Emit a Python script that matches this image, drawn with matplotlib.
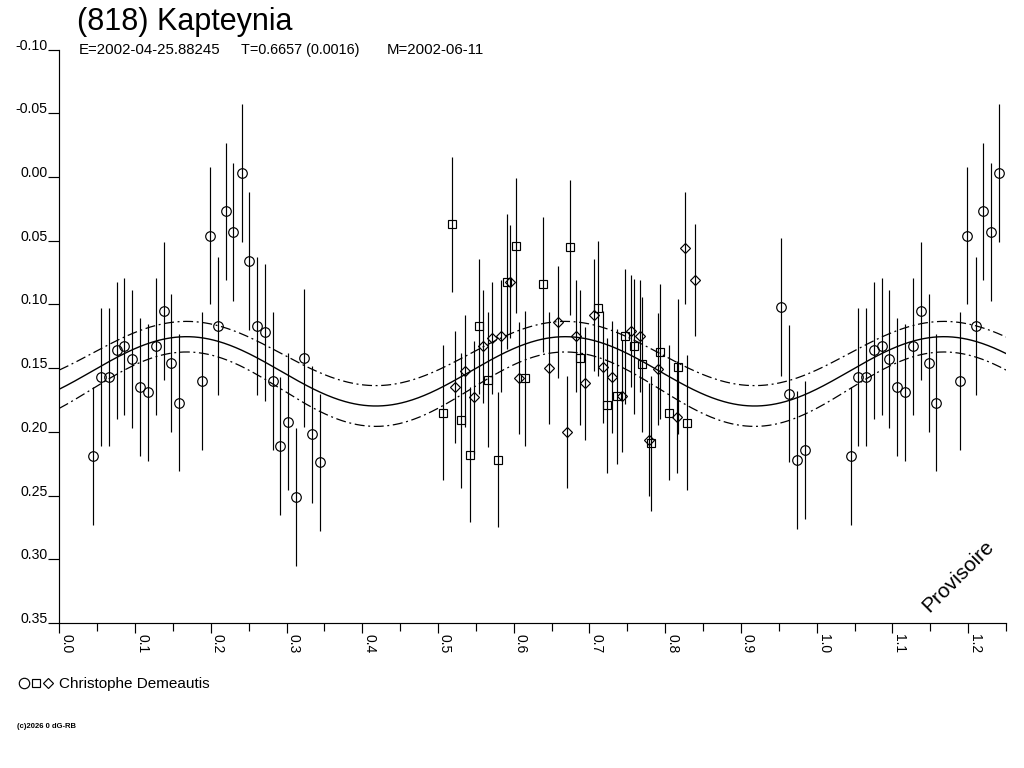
import numpy as np
import matplotlib
matplotlib.use("Agg")
import matplotlib.pyplot as plt
from matplotlib.lines import Line2D

plt.rcParams['font.family'] = ['Liberation Sans', 'DejaVu Sans']
plt.rcParams['axes.unicode_minus'] = False
plt.rcParams['lines.scale_dashes'] = False

# ---------------- texts ----------------
TITLE = "(818) Kapteynia"
EPOCH = "E=2002-04-25.88245"
PERIOD = "T=0.6657 (0.0016)"
MEAN_DATE = "M=2002-06-11"
OBSERVER = "Christophe Demeautis"
WATERMARK = "Provisoire"
COPYRIGHT = "(c)2026 0 dG-RB"

# ---------------- data (phase, relative magnitude) ----------------
circle_phase = [0.0449, 0.0547, 0.0656, 0.0758, 0.0858, 0.0960, 0.1065, 0.1171,
                0.1273, 0.1378, 0.1479, 0.1580, 0.1888, 0.1989, 0.2098, 0.2201,
                0.2297, 0.2408, 0.2508, 0.2610, 0.2719, 0.2817, 0.2914, 0.3023,
                0.3125, 0.3230, 0.3336, 0.3438, 0.9531, 0.9633, 0.9739, 0.9840]
circle_mag = [0.219, 0.157, 0.157, 0.136, 0.133, 0.143, 0.165, 0.169,
              0.133, 0.105, 0.146, 0.177, 0.160, 0.046, 0.117, 0.027,
              0.043, -0.003, 0.066, 0.117, 0.122, 0.160, 0.211, 0.192,
              0.251, 0.142, 0.202, 0.224, 0.102, 0.170, 0.222, 0.214]
circle_err = 0.054

square_phase = [0.5061, 0.5184, 0.5303, 0.5422, 0.5545, 0.5663, 0.5788, 0.5914,
                0.6029, 0.6148, 0.6389, 0.6746, 0.6870, 0.7116, 0.7234, 0.7358,
                0.7468, 0.7587, 0.7696, 0.7811, 0.7934, 0.8053, 0.8168, 0.8286]
square_mag = [0.185, 0.037, 0.191, 0.218, 0.117, 0.159, 0.222, 0.082,
              0.054, 0.158, 0.084, 0.055, 0.142, 0.103, 0.179, 0.172,
              0.125, 0.133, 0.147, 0.209, 0.137, 0.185, 0.149, 0.193]
square_err = 0.053

diamond_phase = [0.5224, 0.5352, 0.5471, 0.5597, 0.5712, 0.5831, 0.5950, 0.6073,
                 0.6465, 0.6587, 0.6698, 0.6821, 0.6940, 0.7063, 0.7178, 0.7300,
                 0.7424, 0.7543, 0.7666, 0.7781, 0.7900, 0.8150, 0.8264, 0.8388]
diamond_mag = [0.165, 0.152, 0.173, 0.133, 0.126, 0.125, 0.082, 0.158,
               0.150, 0.114, 0.200, 0.125, 0.162, 0.108, 0.149, 0.157,
               0.172, 0.121, 0.125, 0.206, 0.151, 0.188, 0.056, 0.081]
diamond_err = 0.044

# fitted light-curve model (2 harmonics per rotation) and its uncertainty band
FIT_MEAN = 0.1525
FIT_AMP = 0.0272
FIT_PEAK_PHASE = 0.168
BAND_MEAN = 0.014
BAND_AMP = 0.002

x_ticks = [0.0, 0.1, 0.2, 0.3, 0.4, 0.5, 0.6, 0.7, 0.8, 0.9, 1.0, 1.1, 1.2]
x_ticklabels = ["0.0", "0.1", "0.2", "0.3", "0.4", "0.5", "0.6", "0.7",
                "0.8", "0.9", "1.0", "1.1", "1.2"]
y_ticks = [-0.10, -0.05, 0.00, 0.05, 0.10, 0.15, 0.20, 0.25, 0.30, 0.35]
y_ticklabels = ["-0.10", "-0.05", "0.00", "0.05", "0.10", "0.15", "0.20",
                "0.25", "0.30", "0.35"]

X_MAX = 1.25

# ---------------- figure ----------------
W, H = 1024, 768
fig = plt.figure(figsize=(W / 100, H / 100), dpi=100)
fig.patch.set_facecolor('white')


def fx(px):
    return px / W


def fy(py):
    return 1 - py / H


ax = fig.add_axes([fx(59.3), fy(623), (1006 - 59.3) / W, (623 - 49.6) / H])
ax.set_facecolor('white')


def fold(ph, mg):
    ph = np.asarray(ph)
    mg = np.asarray(mg)
    p2 = np.concatenate([ph, ph + 1.0])
    m2 = np.concatenate([mg, mg])
    keep = (p2 >= 0) & (p2 <= X_MAX)
    return p2[keep], m2[keep]


LW = 0.85
series = [
    (circle_phase, circle_mag, circle_err, 'o', 6.9),
    (square_phase, square_mag, square_err, 's', 5.4),
    (diamond_phase, diamond_mag, diamond_err, 'D', 5.0),
]
for ph, mg, er, mk, ms in series:
    p, m = fold(ph, mg)
    ax.errorbar(p, m, yerr=er, fmt=mk, ms=ms, mfc='none', mec='black',
                mew=LW, ecolor='black', elinewidth=LW, capsize=0, zorder=3)

grid = np.linspace(0, X_MAX, 800)
arg = 4 * np.pi * (grid - FIT_PEAK_PHASE)
fit = FIT_MEAN - FIT_AMP * np.cos(arg)
band = BAND_MEAN - BAND_AMP * np.cos(arg)
ax.plot(grid, fit, color='black', lw=1.0, zorder=2)
dashdot = (0, (7.2, 2.6, 1.4, 2.6))
ax.plot(grid, fit - band, color='black', lw=0.9, ls=dashdot, zorder=2)
ax.plot(grid, fit + band, color='black', lw=0.9, ls=dashdot, zorder=2)

ax.set_xlim(0, X_MAX)
ax.set_ylim(0.35, -0.10)

for s in ['top', 'right']:
    ax.spines[s].set_visible(False)
for s in ['left', 'bottom']:
    ax.spines[s].set_linewidth(LW)

ax.set_xticks(x_ticks)
ax.set_xticks([0.05 + 0.1 * i for i in range(13)], minor=True)
ax.set_xticklabels(x_ticklabels, rotation=-90, ha='left', va='top')
ax.set_yticks(y_ticks)
ax.set_yticklabels(y_ticklabels, va='baseline')

ax.tick_params(axis='x', which='major', direction='out', length=7.2, width=LW,
               pad=0.5, labelsize=10)
ax.tick_params(axis='x', which='minor', direction='out', length=5.8, width=LW)
ax.tick_params(axis='y', which='major', direction='out', length=7.8, width=LW,
               pad=0.5, labelsize=10.2)

# ---------------- texts ----------------
fig.text(fx(77), fy(30), TITLE, fontsize=22, ha='left', va='baseline')
fig.text(fx(79), fy(54), EPOCH, fontsize=10.8, ha='left', va='baseline')
fig.text(fx(241), fy(54), PERIOD, fontsize=10.4, ha='left', va='baseline')
fig.text(fx(387), fy(54), MEAN_DATE, fontsize=10.8, ha='left', va='baseline')

fig.text(fx(958), fy(576), WATERMARK, fontsize=15, rotation=45,
         ha='center', va='center', rotation_mode='anchor')

# observer legend
for mk, cx, ms in [('o', 23.5, 7.5), ('s', 36, 6.0), ('D', 47.5, 5.5)]:
    fig.add_artist(Line2D([fx(cx)], [fy(683)], marker=mk, ms=ms, mfc='none',
                          mec='black', mew=LW, ls='none',
                          transform=fig.transFigure))
fig.text(fx(59), fy(688), OBSERVER, fontsize=11, ha='left', va='baseline')
fig.text(fx(17), fy(728), COPYRIGHT, fontsize=5.5, ha='left', va='baseline',
         fontweight='bold')

fig.savefig('out.png', dpi=100, facecolor='white')
